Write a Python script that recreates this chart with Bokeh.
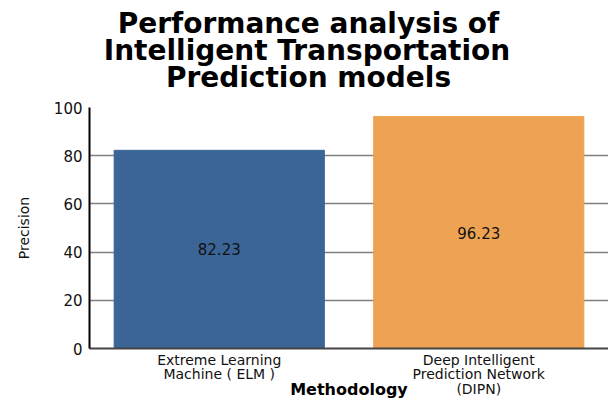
from bokeh.plotting import figure
from bokeh.models import ColumnDataSource, FixedTicker, Title
from bokeh.core.properties import value
from bokeh.embed import file_html
from bokeh.resources import INLINE

# ---- data ----
methods = ["Extreme Learning\nMachine ( ELM )", "Deep Intelligent\nPrediction Network\n(DIPN)"]
precision = [82.23, 96.23]
bar_colors = ["#3b6597", "#eea354"]
y_ticks = [0, 20, 40, 60, 80, 100]
title_lines = ["Performance analysis of", "Intelligent Transportation", "Prediction models"]
x_label = "Methodology"
y_label = "Precision"

FONT = "DejaVu Sans"
TITLE_PX = 28
# approximate advance widths (em) of DejaVu Sans Bold, used only to centre title lines
EM = {" ": .348, "P": .733, "I": .372, "T": .682, "a": .675, "c": .593, "d": .716,
      "e": .678, "f": .435, "g": .716, "i": .343, "l": .343, "m": 1.042, "n": .712,
      "o": .687, "p": .716, "r": .493, "s": .595, "t": .478, "y": .652}
TITLE_CENTER = 308  # canvas x of the title's centre
FRAME_LEFT = 89

src = ColumnDataSource(dict(
    m=methods,
    v=precision,
    half=[v / 2 for v in precision],
    txt=["%.2f" % v for v in precision],
    c=bar_colors,
))

p = figure(x_range=methods, y_range=(0, 100), width=608, height=402,
           output_backend="svg", toolbar_location=None,
           min_border_left=FRAME_LEFT, min_border_right=0, min_border_top=107,
           min_border_bottom=54)
p.title.visible = False
p.outline_line_color = None
p.background_fill_color = "white"

p.vbar(x="m", top="v", width=0.81, color="c", source=src)
p.text(x="m", y="half", text="txt", source=src, text_align="center",
       text_baseline="middle", text_font=value(FONT), text_font_size="15px",
       text_color="#111111")

# y axis
p.yaxis.ticker = FixedTicker(ticks=y_ticks)
p.yaxis.minor_tick_line_color = None
p.yaxis.major_tick_out = 0
p.yaxis.major_tick_in = 0
p.yaxis.axis_line_color = "black"
p.yaxis.axis_line_width = 2
p.yaxis.major_label_standoff = 7
p.yaxis.major_label_text_font = FONT
p.yaxis.major_label_text_font_size = "15px"
p.yaxis.major_label_text_color = "#111111"
p.yaxis.axis_label = y_label
p.yaxis.axis_label_text_font = FONT
p.yaxis.axis_label_text_font_size = "14px"
p.yaxis.axis_label_text_font_style = "normal"
p.yaxis.axis_label_text_color = "#111111"
p.yaxis.axis_label_standoff = 19

# x axis
p.xaxis.major_tick_out = 0
p.xaxis.major_tick_in = 0
p.xaxis.axis_line_color = "#444444"
p.xaxis.axis_line_width = 2
p.xaxis.major_label_standoff = 3
p.xaxis.major_label_text_font = FONT
p.xaxis.major_label_text_font_size = "14px"
p.xaxis.major_label_text_color = "#111111"
p.xaxis.major_label_text_line_height = 0.93
p.xaxis.axis_label = x_label
p.xaxis.axis_label_text_font = FONT
p.xaxis.axis_label_text_font_size = "16px"
p.xaxis.axis_label_text_font_style = "bold"
p.xaxis.axis_label_text_color = "black"
p.xaxis.axis_label_standoff = -20

# grid
p.xgrid.grid_line_color = None
p.ygrid.grid_line_color = "#808080"
p.ygrid.grid_line_width = 1.5

# spacer between the title and the plot area
p.add_layout(Title(text=" ", text_font=FONT, text_font_size="10px", standoff=5), "above")
# title: one Title per line, nearest-to-plot first
for line in reversed(title_lines):
    w = sum(EM.get(ch, .65) for ch in line) * TITLE_PX
    p.add_layout(Title(text=line, align="left", offset=TITLE_CENTER - w / 2 - FRAME_LEFT,
                       text_font=FONT, text_font_size="%dpx" % TITLE_PX,
                       text_font_style="bold", text_color="black",
                       standoff=-8), "above")

open("out.html", "w").write(file_html(p, INLINE))
